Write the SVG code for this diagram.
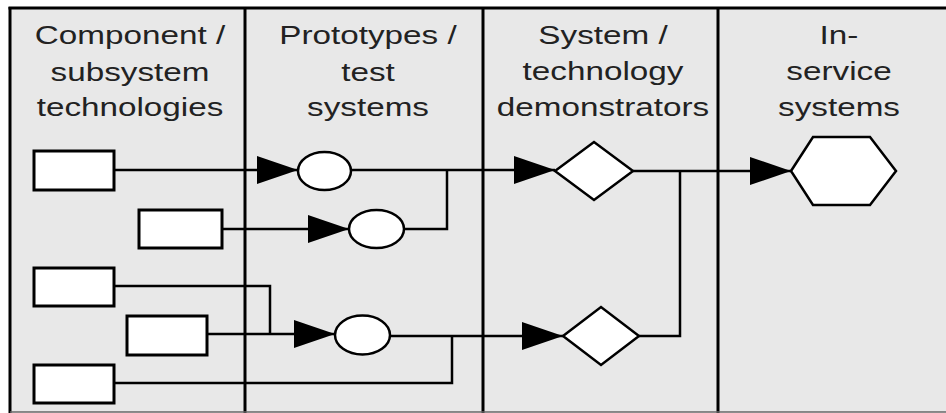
<svg xmlns="http://www.w3.org/2000/svg" width="946" height="413" viewBox="0 0 946 413">
<defs>
<style>
.hdr{font-family:"Liberation Sans",Arial,sans-serif;font-size:25px;fill:#222;text-anchor:middle}
.box{fill:#fff;stroke:#000;stroke-width:3}
.node{fill:#fff;stroke:#000;stroke-width:2.5}
.wire{fill:none;stroke:#000;stroke-width:2.5}
.div{stroke:#000;stroke-width:3}
</style>
<marker id="arr" markerUnits="userSpaceOnUse" markerWidth="42" markerHeight="30" viewBox="0 0 42 30" refX="41" refY="15" orient="auto">
<path d="M0,1 L41,15 L0,29 Z" fill="#000"/>
</marker>
</defs>
<rect x="0" y="0" width="946" height="413" fill="#fff"/>
<rect x="10" y="8" width="936" height="404" fill="#e8e8e8"/>
<g id="frame">
<line class="div" x1="8.5" y1="8" x2="946" y2="8"/>
<line class="div" x1="10" y1="7" x2="10" y2="413"/>
<line class="div" x1="245" y1="8" x2="245" y2="413"/>
<line class="div" x1="483" y1="8" x2="483" y2="413"/>
<line class="div" x1="718" y1="8" x2="718" y2="413"/>
<line x1="10" y1="412" x2="946" y2="412" stroke="#666" stroke-width="1.5"/>
</g>
<g id="headers">
<g transform="translate(130,0) scale(1.33,1)"><text class="hdr" x="0" y="44">Component /</text><text class="hdr" x="0" y="81">subsystem</text><text class="hdr" x="0" y="116">technologies</text></g>
<g transform="translate(368,0) scale(1.33,1)"><text class="hdr" x="0" y="44">Prototypes /</text><text class="hdr" x="0" y="81">test</text><text class="hdr" x="0" y="116">systems</text></g>
<g transform="translate(603,0) scale(1.33,1)"><text class="hdr" x="0" y="44">System /</text><text class="hdr" x="0" y="80">technology</text><text class="hdr" x="0" y="116">demonstrators</text></g>
<g transform="translate(839,0) scale(1.33,1)"><text class="hdr" x="0" y="44">In-</text><text class="hdr" x="0" y="80">service</text><text class="hdr" x="0" y="116">systems</text></g>
</g>
<g id="connectors">
<path class="wire" d="M115,170 H298" marker-end="url(#arr)"/>
<path class="wire" d="M222,229 H349" marker-end="url(#arr)"/>
<path class="wire" d="M404,229 H447 V170"/>
<path class="wire" d="M351,170 H555" marker-end="url(#arr)"/>
<path class="wire" d="M115,286 H270 V334"/>
<path class="wire" d="M207,334 H335" marker-end="url(#arr)"/>
<path class="wire" d="M115,383 H452 V336"/>
<path class="wire" d="M390,336 H563" marker-end="url(#arr)"/>
<path class="wire" d="M639,336 H680 V171"/>
<path class="wire" d="M633,171 H791" marker-end="url(#arr)"/>
</g>
<g id="comp1"><rect class="box" x="34" y="151" width="80" height="39"/></g>
<g id="comp2"><rect class="box" x="139" y="210" width="83" height="38"/></g>
<g id="comp3"><rect class="box" x="34" y="268" width="80" height="38"/></g>
<g id="comp4"><rect class="box" x="127" y="316" width="80" height="39"/></g>
<g id="comp5"><rect class="box" x="34" y="365" width="80" height="38"/></g>
<g id="proto1"><ellipse class="node" cx="324.5" cy="171" rx="26.5" ry="19"/></g>
<g id="proto2"><ellipse class="node" cx="376.5" cy="229" rx="27.5" ry="19"/></g>
<g id="proto3"><ellipse class="node" cx="362.5" cy="335" rx="27.5" ry="19.5"/></g>
<g id="demo1"><polygon class="node" points="555,171 594,142 633,171 594,200"/></g>
<g id="demo2"><polygon class="node" points="563,336 601,307 639,336 601,365"/></g>
<g id="inservice"><polygon class="node" points="791,171 813,137 870,137 896,171 870,205 813,205"/></g>
</svg>
